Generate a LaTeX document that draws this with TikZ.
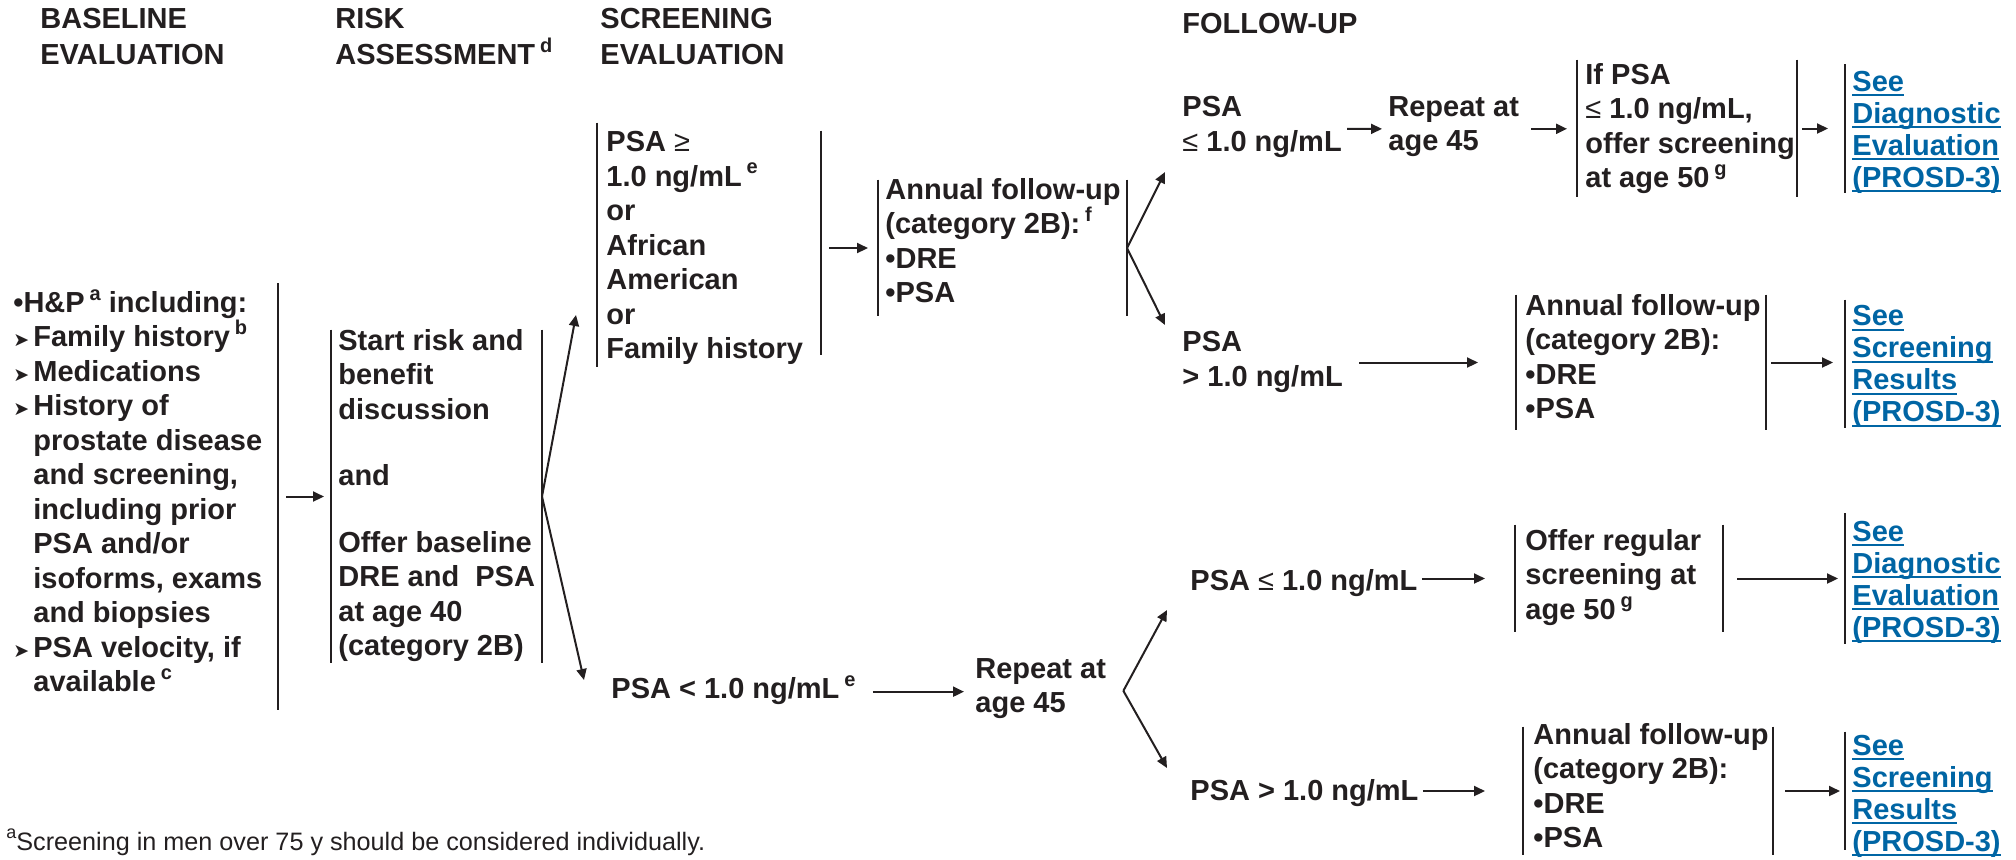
\documentclass[tikz,border=0pt]{standalone}
\usepackage{fontspec}
\setmainfont{Liberation Sans}
\newfontfamily\markfont{DejaVu Sans}
\usetikzlibrary{arrows.meta}
\definecolor{ink}{RGB}{35,31,32}
\definecolor{linkblue}{RGB}{0,101,164}
\newcommand{\barwd}{1.2pt}
\newcommand{\arrwd}{1pt}
\newcommand{\fnm}[1]{\,\raisebox{0.42em}{\fontsize{10}{10}\selectfont #1}}
\newcommand{\arrmk}{\makebox[10pt][l]{\markfont\fontsize{9.5}{9.5}\selectfont ➤}}
\newcommand{\indnt}{\hspace*{10pt}}
\newcommand{\lnk}[1]{\setbox0\hbox{#1}\rlap{\rule[-2.5pt]{\wd0}{1pt}}\box0}
\tikzset{
  txt/.style={anchor=north west, inner sep=0pt, align=left, text=ink,
    font=\fontsize{14.5}{17.25}\selectfont\bfseries,
    execute at begin node=\strut, execute at end node=\strut},
  head/.style={txt, font=\fontsize{14.5}{18}\selectfont\bfseries},
  link/.style={txt, text=linkblue, font=\fontsize{14.5}{16}\selectfont\bfseries},
  sidebar/.style={inner sep=0pt, minimum width=0pt, minimum height=#1,
    append after command={(\tikzlastnode.north) edge[draw=ink, line width=\barwd] (\tikzlastnode.south)}},
  arr/.style={draw=ink, line width=\arrwd, -{Triangle[length=5.5pt,width=5pt]}}
}

\begin{document}
\begin{tikzpicture}[x=0.5pt, y=-0.5pt]
  \useasboundingbox (0,0) rectangle (2016,859);

  % headings
  \node (hBase) at (40,8) [head] {BASELINE\\EVALUATION};
  \node (hRisk) at (335,8) [head] {RISK\\ASSESSMENT\fnm{d}};
  \node (hScr) at (600,8) [head] {SCREENING\\EVALUATION};
  \node (hFol) at (1182,8) [head] {FOLLOW-UP};

  % side bars of the boxes
  \foreach \n/\x/\y/\h in {baseR/278/496.5/213pt, riskL/331/496.5/166.5pt, riskR/542/496.5/166.5pt,
      scrL/597/245/122pt, scrR/821/243/112pt, annAL/878/248/68pt, annAR/1127/248/68pt,
      ifL/1577/128.5/68.5pt, ifR/1797/128.5/68.5pt, seeAL/1845/128.5/64pt,
      annBL/1516/362.5/67.5pt, annBR/1766/362.5/67.5pt, seeBL/1845/364/64pt,
      offL/1515/578.5/53.5pt, offR/1723/578.5/53.5pt, seeCL/1845/578.5/65pt,
      annCL/1523/791/64pt, annCR/1773/791/64pt, seeDL/1845/791/59pt}
  {
    \node (\n) at (\x,\y) [sidebar=\h] {};
  }

  % baseline evaluation
  \node (base) at (13,289) [txt] {\textbullet H\&P\fnm{a} including:\\
    \arrmk Family history\fnm{b}\\
    \arrmk Medications\\
    \arrmk History of\\
    \indnt prostate disease\\
    \indnt and screening,\\
    \indnt including prior\\
    \indnt PSA and/or\\
    \indnt isoforms, exams\\
    \indnt and biopsies\\
    \arrmk PSA velocity, if\\
    \indnt available\fnm{c}};

  % risk assessment
  \node (risk) at (338,329) [txt] {Start risk and\\benefit\\discussion\\[16pt]and\\[16pt]Offer baseline\\DRE and~ PSA\\at age 40\\(category 2B)};

  % upper branch
  \node (scr) at (606,131) [txt] {PSA {\mdseries ≥}\\1.0 ng/mL\fnm{e}\\or\\African\\American\\or\\Family history};
  \node (annA) at (885,178) [txt] {Annual follow-up\\(category 2B):\fnm{f}\\\textbullet DRE\\\textbullet PSA};
  \node (psaA) at (1182,96) [txt] {PSA\\{\mdseries ≤} 1.0 ng/mL};
  \node (repA) at (1388,96) [txt] {Repeat at\\age 45};
  \node (ifA) at (1585,63) [txt] {If PSA\\{\mdseries ≤} 1.0 ng/mL,\\offer screening\\at age 50\fnm{g}};
  \node (seeA) at (1852,70.6) [link] {\lnk{See}\\\lnk{Diagnostic}\\\lnk{Evaluation}\\\lnk{(PROSD-3)}};
  \node (psaB) at (1182,331) [txt] {PSA\\> 1.0 ng/mL};
  \node (annB) at (1525,294) [txt] {Annual follow-up\\(category 2B):\\\textbullet DRE\\\textbullet PSA};
  \node (seeB) at (1852,305) [link] {\lnk{See}\\\lnk{Screening}\\\lnk{Results}\\\lnk{(PROSD-3)}};

  % lower branch
  \node (psaC) at (611,674) [txt] {PSA < 1.0 ng/mL\fnm{e}};
  \node (repB) at (975,658) [txt] {Repeat at\\age 45};
  \node (psaD) at (1190,566) [txt] {PSA {\mdseries ≤} 1.0 ng/mL};
  \node (offer) at (1525,529) [txt] {Offer regular\\screening at\\age 50\fnm{g}};
  \node (seeC) at (1852,520.6) [link] {\lnk{See}\\\lnk{Diagnostic}\\\lnk{Evaluation}\\\lnk{(PROSD-3)}};
  \node (psaE) at (1190,776) [txt] {PSA > 1.0 ng/mL};
  \node (annC) at (1533,723) [txt] {Annual follow-up\\(category 2B):\\\textbullet DRE\\\textbullet PSA};
  \node (seeD) at (1852,734.6) [link] {\lnk{See}\\\lnk{Screening}\\\lnk{Results}\\\lnk{(PROSD-3)}};

  % footnote
  \node (note) at (6,850) [anchor=base west, inner sep=0pt, text=ink, font=\fontsize{12.6}{15}\selectfont]
    {\raisebox{0.45em}{\fontsize{9}{9}\selectfont a}Screening in men over 75 y should be considered individually.};

  % fork end points
  \coordinate (tipScr) at (576,315);
  \coordinate (tipLow) at (584,680);
  \coordinate (tipUp) at (1165,172);
  \coordinate (tipDn) at (1165,325);
  \coordinate (tipB1) at (1167,610);
  \coordinate (tipB2) at (1167,768);

  % arrows
  \draw[arr, shorten <=4pt, shorten >=3.5pt] (baseR.center) to (riskL.center);
  \draw[arr] (riskR.center) to (tipScr);
  \draw[arr] (riskR.center) to (tipLow);
  \draw[arr, shorten <=4pt, shorten >=5pt] (annAL.center -| scrR.center) to (annAL.center);
  \draw[arr] (annAR.center) to (tipUp);
  \draw[arr] (annAR.center) to (tipDn);
  \draw[arr, shorten <=2.5pt, shorten >=3pt] (psaA) to (repA);
  \draw[arr, shorten <=6pt, shorten >=5pt] (repA.east) to (repA.east -| ifL.center);
  \draw[arr, shorten <=2.5pt, shorten >=8.5pt] (ifR.center) to (seeAL.center);
  \draw[arr, shorten <=8pt, shorten >=19pt] (annBL.center -| psaB.east) to (annBL.center);
  \draw[arr, shorten <=2.5pt, shorten >=6pt] (annBR.center |- annBL.center) to (annBR.center -| seeBL.center);
  \draw[arr, shorten <=8.5pt, shorten >=5.5pt] (psaC.east) to (psaC.east -| repB.west);
  \draw[arr] ([xshift=8.5pt]repB.east) to (tipB1);
  \draw[arr] ([xshift=8.5pt]repB.east) to (tipB2);
  \draw[arr, shorten <=2pt, shorten >=15pt] (offL.center -| psaD.east) to (offL.center);
  \draw[arr, shorten <=7pt, shorten >=3.5pt] (offR.center) to (seeCL.center);
  \draw[arr, shorten <=2pt, shorten >=19pt] (annCL.center -| psaE.east) to (annCL.center);
  \draw[arr, shorten <=6pt, shorten >=2.5pt] (annCR.center) to (seeDL.center);
\end{tikzpicture}
\end{document}
